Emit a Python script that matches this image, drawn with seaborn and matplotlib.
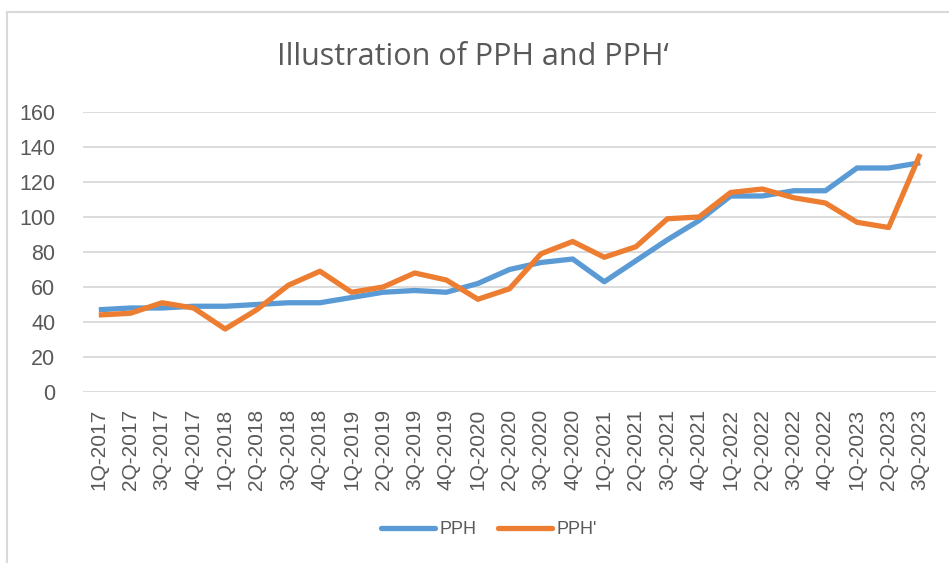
import matplotlib
matplotlib.use("Agg")
import matplotlib.pyplot as plt
import seaborn as sns
import pandas as pd
from matplotlib.lines import Line2D

quarters = ["1Q-2017", "2Q-2017", "3Q-2017", "4Q-2017",
            "1Q-2018", "2Q-2018", "3Q-2018", "4Q-2018",
            "1Q-2019", "2Q-2019", "3Q-2019", "4Q-2019",
            "1Q-2020", "2Q-2020", "3Q-2020", "4Q-2020",
            "1Q-2021", "2Q-2021", "3Q-2021", "4Q-2021",
            "1Q-2022", "2Q-2022", "3Q-2022", "4Q-2022",
            "1Q-2023", "2Q-2023", "3Q-2023"]
pph = [47, 48, 48, 49, 49, 50, 51, 51, 54, 57, 58, 57, 62, 70, 74, 76,
       63, 75, 87, 98, 112, 112, 115, 115, 128, 128, 131]
pph_prime = [44, 45, 51, 48, 36, 47, 61, 69, 57, 60, 68, 64, 53, 59, 79, 86,
             77, 83, 99, 100, 114, 116, 111, 108, 97, 94, 136]
series_names = ["PPH", "PPH'"]
yticks = [0, 20, 40, 60, 80, 100, 120, 140, 160]

df = pd.DataFrame({
    "quarter": quarters * 2,
    "value": pph + pph_prime,
    "series": [series_names[0]] * len(quarters) + [series_names[1]] * len(quarters),
})

sns.set_theme(style="white")
plt.rcParams["font.family"] = ["Liberation Sans", "DejaVu Sans"]

colors = {"PPH": "#5B9BD5", "PPH'": "#ED7D31"}
text_gray = "#595959"
grid_gray = "#D9D9D9"

fig = plt.figure(figsize=(9.49, 5.63), dpi=100)
ax = fig.add_axes([83 / 949, (563 - 392) / 563, (936 - 83) / 949, 280 / 563])

sns.lineplot(data=df, x="quarter", y="value", hue="series", palette=colors,
             linewidth=3.8, ax=ax, legend=False, sort=False)
for ln in ax.lines:
    ln.set_solid_capstyle("butt")
    ln.set_solid_joinstyle("round")

ax.set_xlim(-0.5, len(quarters) - 0.5)
ax.set_ylim(0, 160)
ax.set_yticks(yticks)
ax.set_yticklabels([str(t) for t in yticks])
for t in yticks:
    ax.axhline(t, color=grid_gray, linewidth=1.3, zorder=0)
for s in ax.spines.values():
    s.set_visible(False)
ax.set_xlabel("")
ax.set_ylabel("")
ax.tick_params(axis="y", length=0, pad=20, labelsize=15.5, labelcolor=text_gray)
ax.tick_params(axis="x", length=0, pad=12, labelsize=15, labelcolor=text_gray)
plt.setp(ax.get_xticklabels(), rotation=90, va="top", ha="center")

fig.text(473 / 949, 1 - 57 / 563, "Illustration of PPH and PPH\u2018",
         ha="center", va="center", fontsize=22, color=text_gray,
         family=["Open Sans", "DejaVu Sans"])

handles = [Line2D([0], [0], color=colors[n], linewidth=3.8, solid_capstyle="round")
           for n in series_names]
fig.legend(handles, series_names, loc="center", bbox_to_anchor=(489 / 949, 1 - 530 / 563),
           ncol=2, frameon=False, fontsize=13, labelcolor=text_gray,
           handlelength=3.0, handletextpad=0.28, columnspacing=1.15,
           borderpad=0, borderaxespad=0)

# chart border (top and left edges visible)
fig.add_artist(Line2D([7 / 949, 7 / 949], [0, 1 - 12 / 563], transform=fig.transFigure,
                      color="#D9D9D9", linewidth=1.5))
fig.add_artist(Line2D([7 / 949, 1], [1 - 12 / 563, 1 - 12 / 563], transform=fig.transFigure,
                      color="#D9D9D9", linewidth=1.5))

fig.savefig("out.png", dpi=100, facecolor="white")
